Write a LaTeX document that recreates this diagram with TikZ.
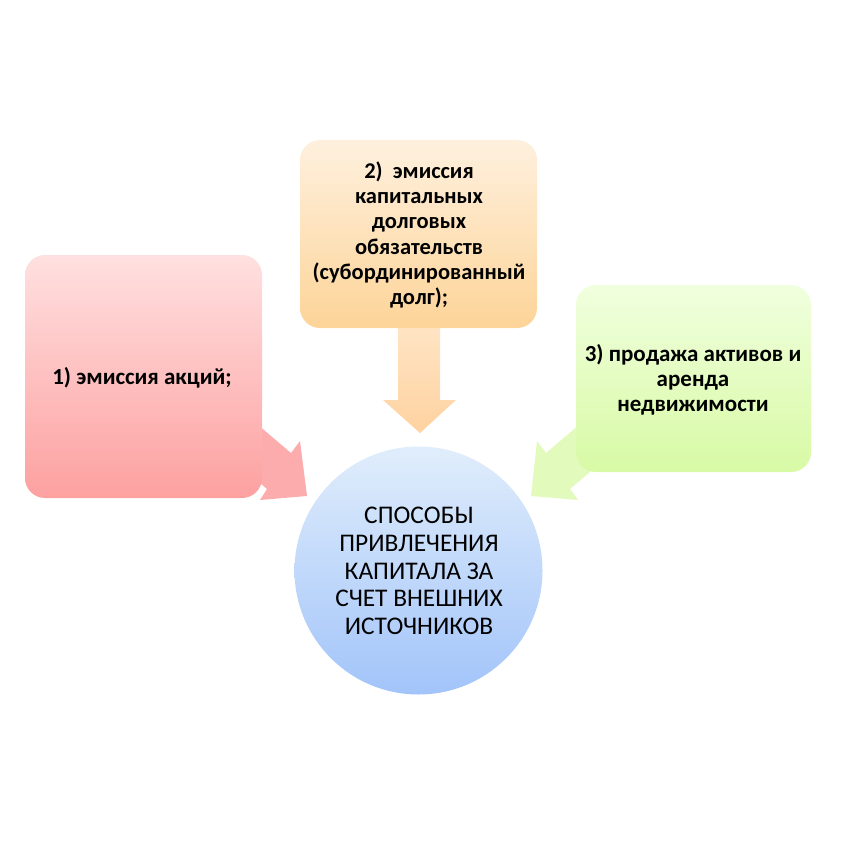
\documentclass[tikz,border=0pt]{standalone}
\usepackage{fontspec}
\setmainfont{Carlito}
\definecolor{redtop}{RGB}{255,224,224}
\definecolor{redbot}{RGB}{253,160,160}
\definecolor{ortop}{RGB}{254,240,222}
\definecolor{orbot}{RGB}{253,212,152}
\definecolor{grtop}{RGB}{240,255,222}
\definecolor{grbot}{RGB}{216,250,165}
\definecolor{bltop}{RGB}{224,237,251}
\definecolor{blbot}{RGB}{162,196,250}
\definecolor{redarr}{RGB}{252,172,172}
\definecolor{orarrA}{RGB}{255,228,196}
\definecolor{orarrB}{RGB}{254,210,160}
\definecolor{grarr}{RGB}{226,250,188}
\tikzset{
  boxtxt/.style={align=center, font=\fontsize{23}{25.3}\selectfont\bfseries, text=black},
  circtxt/.style={align=center, font=\fontsize{25.4}{27.6}\selectfont, text=black},
}
\begin{document}
\begin{tikzpicture}[x=1pt,y=-1pt]
\useasboundingbox (0,0) rectangle (842,842);
% arrows
\shade[top color=orarrA, bottom color=orarrB]
  (398,326) -- (440,326) -- (440,400) -- (456,400) -- (420,433) -- (383,400) -- (398,400) -- cycle;
\fill[redarr] (251,419) -- (291,453) -- (300,441) -- (307,496) -- (260,500) -- (267,489) -- (227,455) -- cycle;
\fill[grarr] (586,419) -- (546,453) -- (537,441) -- (531,496) -- (578,500) -- (570,489) -- (610,455) -- cycle;
% boxes
\shade[rounded corners=20pt, top color=redtop, bottom color=redbot] (25,255) rectangle (262,498);
\shade[rounded corners=20pt, top color=ortop, bottom color=orbot] (300,140) rectangle (537,328);
\shade[rounded corners=20pt, top color=grtop, bottom color=grbot] (576,285) rectangle (811,472);
\shade[top color=bltop, bottom color=blbot] (418.5,570.5) circle (124);
% texts
\node[boxtxt] (t1) at (142,378) {1) эмиссия акций;};
\node[boxtxt, font=\fontsize{22.5}{25.3}\selectfont\bfseries] (t2) at (419,235) {2)\ \ эмиссия\\капитальных\\долговых\\обязательств\\(субординированный\\долг);};
\node[boxtxt] (t3) at (693,380) {3) продажа активов и\\аренда\\недвижимости};
\node[circtxt] (t4) at (419,571) {СПОСОБЫ\\ПРИВЛЕЧЕНИЯ\\КАПИТАЛА ЗА\\СЧЕТ ВНЕШНИХ\\ИСТОЧНИКОВ};
\end{tikzpicture}
\end{document}
